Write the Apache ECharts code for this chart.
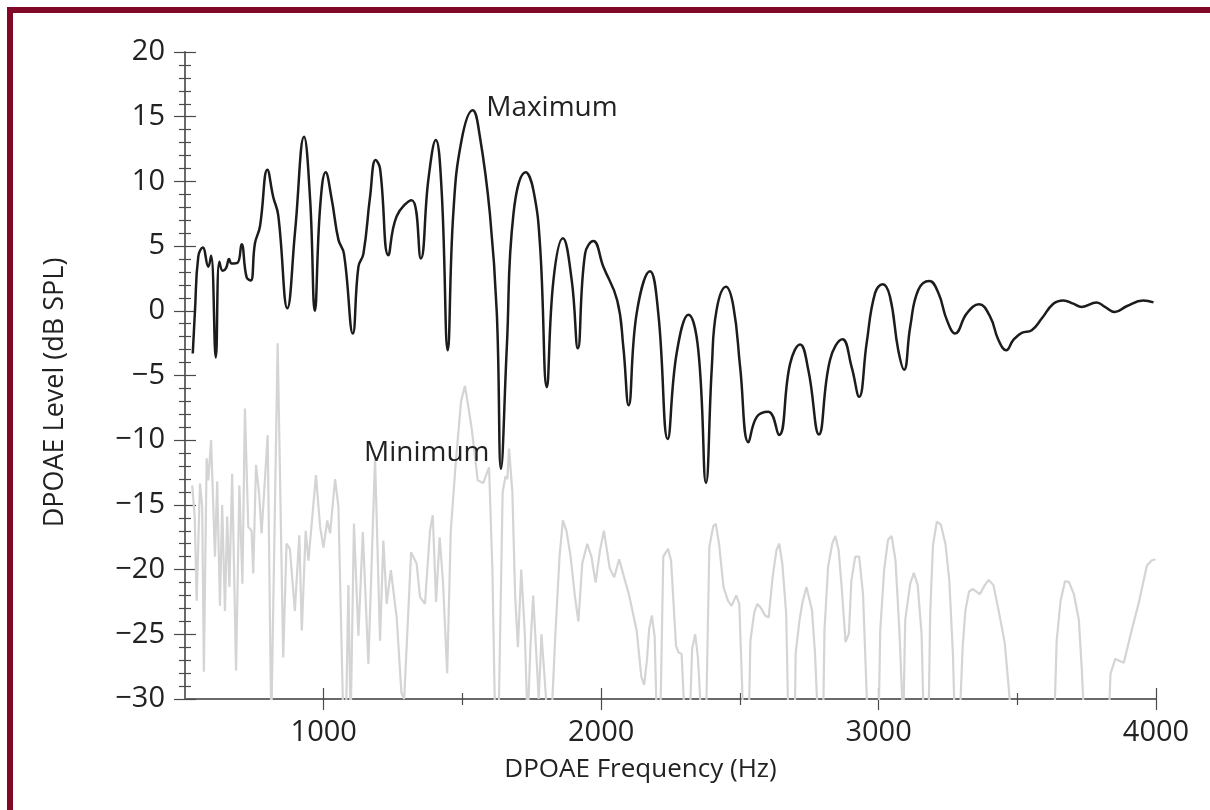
<!DOCTYPE html>
<html>
<head>
<meta charset="utf-8">
<script src="https://cdn.jsdelivr.net/npm/echarts@6/dist/echarts.min.js"></script>
<style>
  html, body { margin: 0; padding: 0; background: #ffffff; }
  #chart { position: absolute; left: 0; top: 0; width: 1210px; height: 810px; }
  .frameL { position: absolute; left: 7px; top: 7px; width: 6px; height: 803px; background: #820828; }
  .frameT { position: absolute; left: 7px; top: 7px; width: 1203px; height: 6px; background: #820828; }
</style>
</head>
<body>
<div id="chart"></div>
<div class="frameL"></div>
<div class="frameT"></div>
<script>
// ---- data ----
const dpFreq = [528,536,548,564,584,594,611,624,636,648,659,668,689,704,722,737,752,770,797,818,836,869,897,929,951,968,987,1007,1029,1053,1073,1105,1125,1143,1167,1187,1203,1233,1263,1317,1350,1377,1404,1425,1447,1467,1497,1537,1563,1599,1624,1639,1660,1684,1728,1756,1780,1804,1828,1862,1894,1916,1942,1972,2008,2058,2080,2099,2128,2176,2206,2240,2272,2315,2350,2378,2399,2416,2450,2477,2501,2531,2561,2603,2641,2681,2717,2747,2785,2825,2870,2903,2930,2957,2987,3015,3041,3071,3092,3114,3143,3183,3216,3246,3276,3318,3362,3402,3432,3460,3486,3516,3552,3588,3630,3666,3702,3732,3786,3816,3852,3894,3954,3991];
const dpLevel = [-3.3,0.0,4.2,4.9,3.4,4.25,-3.6,3.8,3.1,3.3,4.0,3.65,3.7,5.15,2.6,2.35,5.2,6.5,10.9,8.8,7.4,0.2,6.2,13.45,8.6,0.0,8.0,10.7,8.6,5.5,4.4,-1.75,3.4,4.4,8.8,11.65,11.0,4.3,7.3,8.55,4.05,10.1,13.2,9.3,-3.05,7.5,13.2,15.5,13.45,7.5,-0.2,-12.2,-2.8,7.5,10.7,9.3,4.95,-5.9,2.35,5.6,2.35,-2.9,4.4,5.4,3.4,0.8,-2.8,-7.3,-0.2,3.05,-0.2,-9.9,-3.3,-0.3,-3.0,-13.3,-4.35,0.05,1.85,0.3,-4.35,-10.15,-8.2,-7.8,-9.6,-4.1,-2.6,-4.6,-9.55,-3.8,-2.2,-4.35,-6.65,-2.5,1.35,2.05,1.1,-3.05,-4.55,-1.25,1.6,2.3,1.35,-0.7,-1.75,-0.2,0.5,-0.45,-2.25,-3.05,-2.25,-1.7,-1.5,-0.6,0.55,0.8,0.55,0.3,0.65,0.3,-0.1,0.35,0.8,0.65];

const noiseFreq = [526,535,542,554,562,568,578,584,594,608,616,626,634,644,652,660,670,684,696,707,716,728,740,746,756,767,776,798,811,834,854,866,878,896,912,921,935,945,972,987,999,1013,1023,1041,1053,1071,1080,1089,1097,1109,1125,1141,1161,1185,1203,1215,1227,1242,1263,1280,1290,1315,1335,1347,1365,1383,1393,1405,1418,1430,1445,1458,1475,1495,1509,1522,1534,1555,1575,1596,1608,1618,1630,1645,1655,1662,1668,1680,1690,1700,1712,1725,1735,1745,1755,1765,1775,1785,1795,1808,1820,1835,1850,1862,1875,1890,1905,1918,1932,1950,1965,1980,1996,2010,2031,2047,2065,2086,2100,2128,2145,2155,2165,2173,2183,2193,2201,2213,2224,2241,2252,2270,2279,2290,2302,2319,2328,2339,2349,2362,2378,2390,2404,2413,2425,2441,2457,2470,2487,2498,2513,2532,2538,2552,2563,2574,2591,2604,2618,2632,2642,2653,2667,2675,2698,2701,2715,2726,2740,2747,2760,2771,2782,2800,2805,2818,2833,2844,2856,2867,2881,2893,2902,2916,2930,2944,2951,2961,3000,3006,3020,3034,3047,3061,3075,3089,3096,3114,3127,3141,3155,3163,3180,3186,3196,3210,3224,3241,3255,3268,3275,3292,3303,3313,3326,3340,3365,3383,3397,3414,3435,3455,3469,3480,3633,3642,3656,3672,3686,3704,3722,3732,3742,3829,3836,3853,3884,3912,3937,3967,3984,3998];
const noiseLevel = [-13.5,-15.9,-22.4,-13.35,-15.15,-27.9,-11.4,-13.1,-10.0,-19.0,-13.2,-22.8,-15.0,-23.2,-15.9,-21.35,-12.6,-27.8,-13.5,-21.1,-7.55,-16.7,-17.0,-20.3,-11.9,-14.1,-17.2,-9.6,-32,-2.5,-26.8,-18.0,-18.4,-23.2,-17.35,-24.7,-17.0,-19.3,-12.7,-16.7,-18.3,-16.2,-17.2,-13.0,-15.15,-32,-32,-21.2,-32,-16.45,-25.1,-17.1,-27.3,-11.4,-25.5,-17.75,-22.65,-20.05,-23.7,-29.5,-30.0,-18.65,-19.55,-22.1,-22.65,-17.0,-15.8,-22.5,-17.5,-21.0,-28,-17,-12,-7,-5.8,-7.5,-9.2,-13.1,-13.3,-12.1,-20,-32,-32,-14,-12.8,-13,-10.65,-14,-22,-26,-20,-25,-32,-26,-22,-26,-30,-25,-28,-32,-32,-25,-19,-16.2,-17,-19,-22,-24,-19.5,-18.0,-19,-21,-18.5,-17.0,-19.9,-20.6,-19.2,-20.85,-21.9,-24.7,-28.3,-28.9,-27.0,-24.6,-23.55,-25.2,-32,-32,-19.0,-18.4,-19.3,-25.9,-26.4,-26.5,-32,-32,-26.1,-25.0,-26.8,-32,-32,-18.25,-16.65,-16.45,-18.0,-21.35,-22.4,-22.8,-22.0,-22.65,-32,-32,-25.5,-23.3,-22.65,-22.9,-23.55,-23.7,-20.6,-18.5,-18.0,-19.55,-23.4,-32,-32,-26.5,-23.9,-22.5,-21.35,-21.35,-23.15,-26.5,-32,-32,-24.7,-19.8,-18.0,-17.4,-18.5,-21.35,-25.6,-24.95,-20.85,-19.0,-19.0,-21.9,-26.0,-32,-32,-24.7,-20.05,-17.7,-17.4,-19.3,-24.7,-32,-23.9,-21.1,-20.25,-21.2,-24.95,-32,-32,-23.4,-18.15,-16.3,-16.5,-18.0,-20.85,-26.5,-32,-32,-26.0,-23.15,-21.7,-21.5,-21.9,-21.2,-20.8,-21.2,-23.4,-25.7,-29.1,-32,-32,-25.5,-22.4,-20.9,-20.95,-21.9,-23.9,-27.5,-32,-32,-28.05,-26.9,-27.2,-24.7,-22.65,-19.7,-19.3,-19.2];

const xTickMajor = [1000, 2000, 3000, 4000];
const xTickMinor = [1500, 2500, 3500];
const xTitle = 'DPOAE Frequency (Hz)';
const yTitle = 'DPOAE Level (dB SPL)';
const maxLabel = 'Maximum';
const minLabel = 'Minimum';
const minIndex = 51;   // the labelled notch (1639 Hz)

// ---- chart ----
const FONT = 'Open Sans';
const TXT = '#222222';
const AX = '#6a6a6a';
const TK = '#4a4a4a';

function zip(a, b) { return a.map((v, i) => [v, b[i]]); }

const baseX = {
  type: 'value', min: 500, max: 4000, position: 'bottom',
  splitLine: { show: false },
  axisLine: { show: false, onZero: false },
  axisLabel: { show: false },
  axisTick: { show: false }
};
const xAxes = [
  Object.assign({}, baseX, {
    axisLine: { show: true, onZero: false, lineStyle: { color: AX, width: 2 } },
    axisTick: { show: true, customValues: xTickMinor, length: 6, lineStyle: { color: TK, width: 1.2 } },
    axisLabel: { show: true, customValues: xTickMajor, margin: 19, fontFamily: FONT, fontSize: 29, color: TXT,
      formatter: v => String(v) },
    name: xTitle, nameLocation: 'middle', nameGap: 58,
    nameTextStyle: { fontFamily: FONT, fontSize: 26, color: TXT, padding: [0, 60, 0, 0] }
  }),
  Object.assign({}, baseX, {
    axisTick: { show: true, inside: true, customValues: xTickMinor, length: 6, lineStyle: { color: TK, width: 1.2 } }
  }),
  Object.assign({}, baseX, {
    axisTick: { show: true, customValues: xTickMajor, length: 11, lineStyle: { color: TK, width: 1.2 } }
  }),
  Object.assign({}, baseX, {
    axisTick: { show: true, inside: true, customValues: xTickMajor, length: 11, lineStyle: { color: TK, width: 1.2 } }
  })
];

const baseY = {
  type: 'value', min: -30, max: 20, interval: 5, position: 'left',
  splitLine: { show: false },
  minorSplitLine: { show: false }
};
const yAxes = [
  Object.assign({}, baseY, {
    axisLine: { show: true, onZero: false, lineStyle: { color: AX, width: 2 } },
    axisTick: { show: true, length: 11, lineStyle: { color: TK, width: 1.2 } },
    minorTick: { show: true, splitNumber: 5, length: 6, lineStyle: { color: TK, width: 1.2 } },
    axisLabel: { show: true, margin: 20, fontFamily: FONT, fontSize: 29, color: TXT,
      formatter: v => (v < 0 ? '\u2212' + Math.abs(v) : String(v)) },
    name: yTitle, nameLocation: 'middle', nameGap: 116, nameRotate: 90,
    nameTextStyle: { fontFamily: FONT, fontSize: 27, color: TXT, padding: [0, 34, 0, 0] }
  }),
  Object.assign({}, baseY, {
    axisLine: { show: false, onZero: false },
    axisLabel: { show: false },
    axisTick: { show: true, inside: true, length: 11, lineStyle: { color: TK, width: 1.2 } },
    minorTick: { show: true, splitNumber: 5, length: 6, lineStyle: { color: TK, width: 1.2 } }
  })
];

const chart = echarts.init(document.getElementById('chart'), null, { renderer: 'canvas' });
chart.setOption({
  animation: false,
  backgroundColor: '#ffffff',
  grid: { left: 185, right: 54, top: 52, bottom: 111, containLabel: false },
  xAxis: xAxes,
  yAxis: yAxes,
  series: [
    {
      name: 'Noise', type: 'line', xAxisIndex: 0, yAxisIndex: 0,
      data: zip(noiseFreq, noiseLevel),
      showSymbol: false, symbol: 'none', smooth: false, clip: true,
      lineStyle: { color: '#d4d4d4', width: 2.2 }, z: 2
    },
    {
      name: 'DPOAE', type: 'line', xAxisIndex: 0, yAxisIndex: 0,
      data: zip(dpFreq, dpLevel),
      showSymbol: false, symbol: 'none', smooth: 0.45, clip: true,
      lineStyle: { color: '#1c1c1c', width: 2.5 }, z: 3,
      markPoint: {
        symbol: 'circle', symbolSize: 1,
        itemStyle: { color: 'rgba(0,0,0,0)' },
        silent: true,
        data: [
          { type: 'max', name: maxLabel,
            label: { show: true, position: 'right', distance: 13, offset: [0, -2], formatter: maxLabel,
              fontFamily: FONT, fontSize: 28, color: TXT } },
          { name: minLabel, coord: [dpFreq[minIndex], dpLevel[minIndex]],
            label: { show: true, position: 'left', distance: 11, offset: [0, -16], formatter: minLabel,
              fontFamily: FONT, fontSize: 28, color: TXT } }
        ]
      }
    }
  ]
});
</script>
</body>
</html>
